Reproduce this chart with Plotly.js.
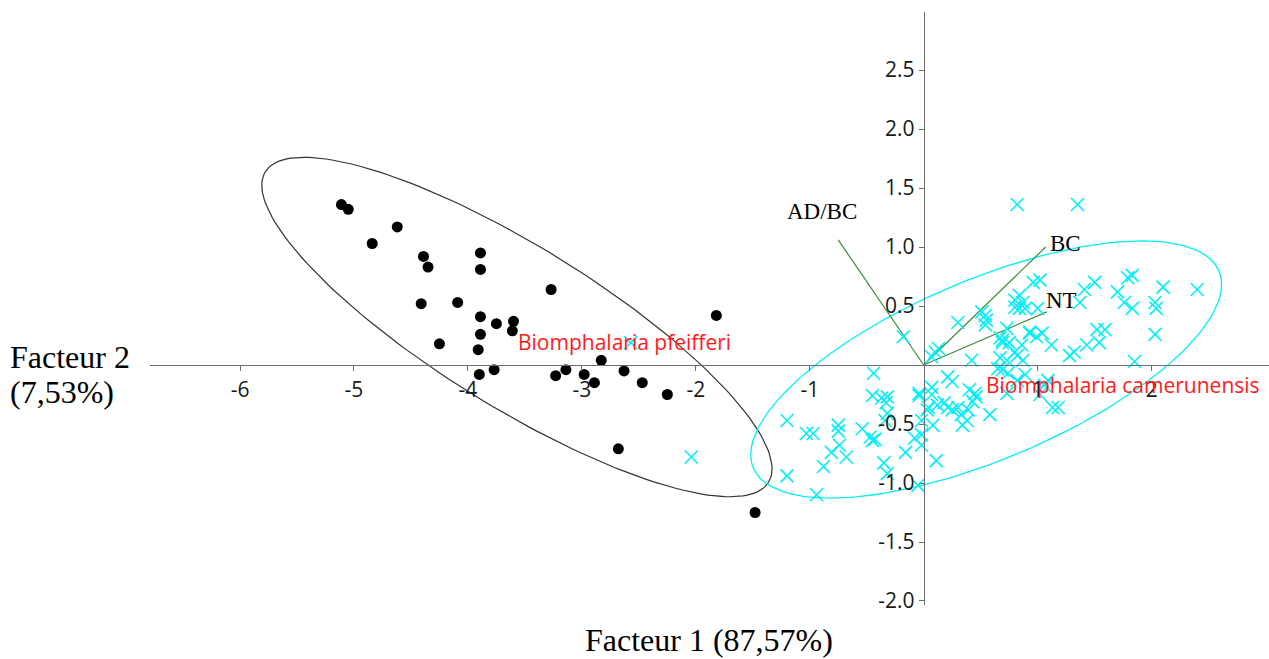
<!DOCTYPE html>
<html>
<head>
<meta charset="utf-8">
<script src="https://cdn.plot.ly/plotly-3.0.1.min.js"></script>
<style>html,body{margin:0;padding:0;background:#fff;}#chart{width:1269px;height:659px;}</style>
</head>
<body>
<div id="chart"></div>
<script>
// Biomphalaria pfeifferi (black dots)
const pfX = [-5.11,-5.05,-4.84,-4.62,-4.39,-4.35,-4.41,-4.09,-4.25,-3.89,-3.89,-3.89,-3.89,-3.91,-3.75,-3.60,-3.61,-3.90,-3.77,-3.27,-3.23,-3.14,-2.98,-2.89,-2.83,-2.63,-2.47,-2.25,-1.82,-2.68,-1.48];
const pfY = [1.36,1.32,1.03,1.17,0.92,0.83,0.52,0.53,0.18,0.95,0.81,0.41,0.26,0.13,0.35,0.37,0.29,-0.08,-0.04,0.64,-0.09,-0.04,-0.08,-0.15,0.04,-0.05,-0.15,-0.25,0.42,-0.71,-1.25];

// Biomphalaria camerunensis (cyan crosses)
const cmX = [-2.04,-2.57,-1.20,-1.03,-0.97,-0.75,-0.75,-0.74,-0.81,-0.68,-0.88,-0.54,-0.47,-0.45,-0.43,-0.16,-0.35,-0.32,-1.20,-0.94,-0.44,-0.45,-0.37,-0.32,-0.33,-0.32,-0.34,-0.04,-0.02,-0.08,-0.02,-0.05,-0.18,0.11,
  0.07,0.13,0.10,-0.04,0.07,0.12,0.03,0.08,0.21,0.25,0.30,0.42,0.54,0.54,0.40,0.21,0.38,0.34,0.43,0.46,0.58,0.30,0.39,0.25,0.18,0.33,-0.02,0.45,0.07,0.04,
  0.51,0.55,0.80,0.89,0.67,0.69,0.75,0.67,0.73,0.80,0.86,0.93,0.99,0.65,0.69,0.74,0.82,0.89,0.82,1.35,1.02,0.96,0.84,0.80,0.87,0.84,1.00,1.41,1.50,1.37,1.70,1.79,1.83,1.76,1.83,2.03,2.04,2.10,2.40,2.03,1.52,1.59,1.54,1.43,1.32,1.28,1.12,1.04,0.93,0.73,0.69,0.82,0.87,1.85,1.09,1.13,1.18,0.73,1.06,1.02];
const cmY = [-0.78,0.19,-0.47,-0.58,-0.58,-0.51,-0.56,-0.68,-0.74,-0.78,-0.86,-0.54,-0.61,-0.64,-0.63,-0.74,-0.83,-0.92,-0.94,-1.10,-0.07,-0.26,-0.28,-0.27,-0.32,-0.41,-0.47,-0.24,-0.59,-0.62,-0.68,-1.02,0.24,-0.81,
  0.07,0.14,0.11,-0.26,-0.19,-0.34,-0.38,-0.51,-0.10,-0.14,0.36,0.04,0.42,0.34,-0.21,-0.36,-0.47,-0.51,-0.31,-0.27,-0.42,-0.36,-0.38,-0.38,-0.32,-0.42,-0.47,-0.24,-0.25,-0.36,
  0.45,0.38,0.49,0.48,0.23,0.19,0.19,0.06,0.04,0.11,0.17,0.28,0.24,-0.03,-0.04,-0.07,-0.13,-0.08,1.36,1.36,0.72,0.70,0.59,0.55,0.53,0.48,0.48,0.64,0.70,0.53,0.62,0.74,0.76,0.53,0.48,0.53,0.48,0.66,0.64,0.26,0.30,0.30,0.19,0.17,0.11,0.08,0.17,0.27,0.27,0.31,0.21,0.08,0.04,0.03,-0.13,-0.36,-0.36,-0.24,-0.17,-0.25];

// Variable vectors (from origin)
const vecNames = ["AD/BC", "BC", "NT"];
const vecX = [-0.75, 1.07, 1.08];
const vecY = [1.06, 1.00, 0.45];

// Confidence ellipses: center, two conjugate semi-axis vectors (data units)
const ellPfCenter = [-3.570, 0.322];
const ellPfU = [2.208, -1.316];
const ellPfV = [-0.371, -0.581];
const ellCmCenter = [0.548, -0.038];
const ellCmU = [2.043, 0.834];
const ellCmV = [0.306, -0.701];

// Axis ticks
const xTicks = [-6, -5, -4, -3, -2, -1, 1, 2];
const xTickText = ["-6", "-5", "-4", "-3", "-2", "-1", "1", "2"];
const yTicks = [-2.0, -1.5, -1.0, -0.5, 0.5, 1.0, 1.5, 2.0, 2.5];
const yTickText = ["-2.0", "-1.5", "-1.0", "-0.5", "0.5", "1.0", "1.5", "2.0", "2.5"];

function ellipse(c, u, v) {
  const xs = [], ys = [];
  for (let i = 0; i <= 180; i++) {
    const t = 2 * Math.PI * i / 180;
    xs.push(c[0] + u[0] * Math.cos(t) + v[0] * Math.sin(t));
    ys.push(c[1] + u[1] * Math.cos(t) + v[1] * Math.sin(t));
  }
  return {xs, ys};
}

const ePf = ellipse(ellPfCenter, ellPfU, ellPfV);
const eCm = ellipse(ellCmCenter, ellCmU, ellCmV);

const traces = [];
traces.push({x: ePf.xs, y: ePf.ys, mode: "lines", line: {color: "#333", width: 1.2}, hoverinfo: "skip"});
traces.push({x: eCm.xs, y: eCm.ys, mode: "lines", line: {color: "#00f0f8", width: 1.3}, hoverinfo: "skip"});
for (let i = 0; i < vecNames.length; i++) {
  traces.push({x: [0, vecX[i]], y: [0, vecY[i]], mode: "lines", line: {color: "#3c8c3c", width: 1.2}, hoverinfo: "skip"});
}
traces.push({x: cmX, y: cmY, mode: "markers", marker: {symbol: "x-thin", size: 13, line: {color: "#00f0f8", width: 1.6}, color: "#00f0f8"}});
traces.push({x: pfX, y: pfY, mode: "markers", marker: {symbol: "circle", size: 11, color: "#000"}});

const vecLabelPos = [[-0.895, 1.30], [1.245, 1.03], [1.21, 0.55]];
const annotations = [];
for (let i = 0; i < vecNames.length; i++) {
  annotations.push({x: vecLabelPos[i][0], y: vecLabelPos[i][1], xref: "x", yref: "y", text: vecNames[i], showarrow: false,
    font: {family: "Liberation Serif, Times New Roman, serif", size: 23, color: "#000"}});
}
annotations.push({x: -2.63, y: 0.195, xref: "x", yref: "y", text: "Biomphalaria pfeifferi", showarrow: false,
  font: {family: "Open Sans, sans-serif", size: 21, color: "#ff1a1a"}});
annotations.push({x: 1.745, y: -0.17, xref: "x", yref: "y", text: "Biomphalaria camerunensis", showarrow: false,
  font: {family: "Open Sans, sans-serif", size: 21, color: "#ff1a1a"}});
annotations.push({x: -0.1269, y: (605 - 357) / 593, xref: "paper", yref: "paper", xanchor: "left", yanchor: "middle", text: "Facteur 2", showarrow: false,
  font: {family: "Liberation Serif, Times New Roman, serif", size: 32, color: "#000"}});
annotations.push({x: -0.1269, y: (605 - 392) / 593, xref: "paper", yref: "paper", xanchor: "left", yanchor: "middle", text: "(7,53%)", showarrow: false,
  font: {family: "Liberation Serif, Times New Roman, serif", size: 32, color: "#000"}});
annotations.push({x: 0.4996, y: (605 - 640) / 593, xref: "paper", yref: "paper", xanchor: "center", yanchor: "middle", text: "Facteur 1 (87,57%)", showarrow: false,
  font: {family: "Liberation Serif, Times New Roman, serif", size: 32, color: "#000"}});

const xr = [-6.79, 3.03];
const yr = [-2.034, 2.992];

const layout = {
  width: 1269, height: 659,
  margin: {l: 150, r: 0, t: 12, b: 54},
  paper_bgcolor: "#fff", plot_bgcolor: "#fff",
  showlegend: false,
  xaxis: {range: xr, anchor: "free", position: (0 - yr[0]) / (yr[1] - yr[0]),
    showgrid: false, zeroline: false, showline: true, linecolor: "#6e6e6e", linewidth: 1.3,
    ticks: "outside", ticklen: 5, tickcolor: "#6e6e6e", tickvals: xTicks, ticktext: xTickText,
    tickfont: {family: "Open Sans, sans-serif", size: 21, color: "#1a1a1a"}},
  yaxis: {range: yr, anchor: "free", position: (0 - xr[0]) / (xr[1] - xr[0]),
    showgrid: false, zeroline: false, showline: true, linecolor: "#6e6e6e", linewidth: 1.3,
    ticks: "outside", ticklen: 5, tickcolor: "#6e6e6e", tickvals: yTicks, ticktext: yTickText,
    tickfont: {family: "Open Sans, sans-serif", size: 21, color: "#1a1a1a"}},
  annotations: annotations
};

Plotly.newPlot("chart", traces, layout, {staticPlot: true, displayModeBar: false});
</script>
</body>
</html>
